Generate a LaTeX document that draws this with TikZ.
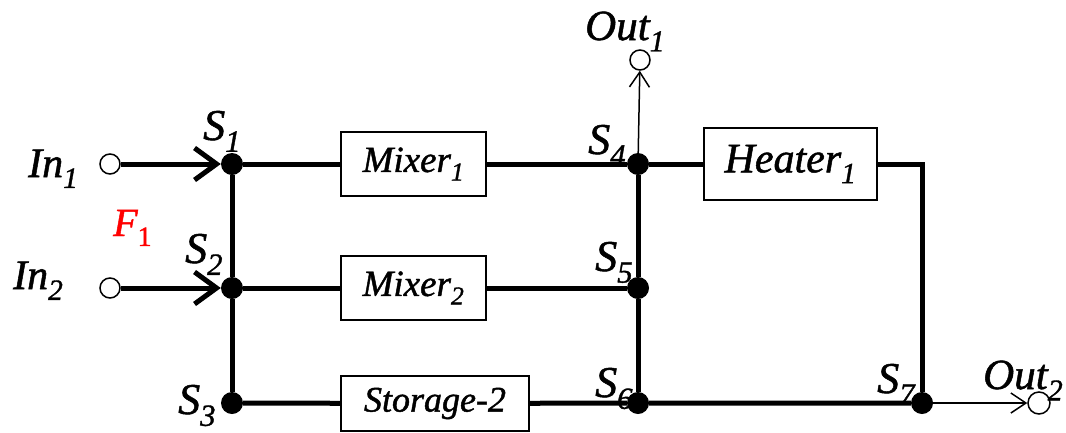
\documentclass[tikz,border=0pt]{standalone}
\usepackage{fontspec}
\setmainfont{Liberation Serif}[FakeBold=1.2]
\usetikzlibrary{arrows.meta}
\begin{document}
\begin{tikzpicture}[x=1pt,y=-1pt,
  dot/.style={circle,fill=black,minimum size=22pt,inner sep=0pt},
  port/.style={circle,draw,line width=1.5pt,fill=white,minimum size=20pt,inner sep=0pt},
  unit/.style={draw,line width=2pt,inner sep=0pt,font=\fontsize{37}{40}\selectfont\itshape},
  wire/.style={line width=5pt,line join=miter},
  feed/.style={line width=5pt,-{Straight Barb[length=22pt,width=32pt]}},
  tap/.style={line width=1.5pt,-{Straight Barb[length=15pt,width=20pt]}},
  slab/.style={anchor=base west,inner sep=0pt,font=\fontsize{44}{48}\selectfont\itshape},
  plab/.style={anchor=base west,inner sep=0pt,font=\fontsize{42}{46}\selectfont\itshape},
]
\useasboundingbox (0,0) rectangle (1066,432);

% units
\node[unit,minimum width=145pt,minimum height=64pt] (Mixer1) at (413.5,164) {Mixer\textsubscript{1}};
\node[unit,minimum width=145pt,minimum height=64pt] (Mixer2) at (413.5,288) {Mixer\textsubscript{2}};
\node[unit,minimum width=188pt,minimum height=55pt,font=\fontsize{36}{40}\selectfont\itshape] (Storage) at (435,403.5) {Storage-2};
\node[unit,minimum width=173pt,minimum height=72pt,font=\fontsize{42}{46}\selectfont\itshape] (Heater) at (790.5,164) {Heater\textsubscript{1}};

% splitters
\node[dot] (S1) at (232,164) {};
\node[dot] (S2) at (232,288) {};
\node[dot] (S3) at (232,403) {};
\node[dot] (S4) at (638,164) {};
\node[dot] (S5) at (638,288) {};
\node[dot] (S6) at (638,403) {};
\node[dot] (S7) at (922,403) {};
\coordinate (corner) at (922,164);

% ports
\node[port] (In1) at (110,164) {};
\node[port] (In2) at (110,288) {};
\node[port] (Out1) at (640,60) {};
\node[port,minimum size=22pt] (Out2) at (1039,403) {};

% wires
\draw[wire] (S1) -- (Mixer1) -- (S4);
\draw[wire] (S2) -- (Mixer2) -- (S5);
\draw[wire] (S3) -- (Storage) -- (S6) -- (S7);
\draw[wire] (S1) -- (S2) -- (S3);
\draw[wire] (S4) -- (S5) -- (S6);
\draw[wire] (S4) -- (Heater) -- (corner) -- (S7);
\draw[feed] (In1) -- (S1);
\draw[feed] (In2) -- (S2);
\draw[tap] (S4) -- (Out1);
\draw[tap] (S7) -- (Out2);

% labels
\node[slab] (lS1) at (203,140) {S\textsubscript{1}};
\node[slab] (lS2) at (185,263) {S\textsubscript{2}};
\node[slab] (lS3) at (178,414) {S\textsubscript{3}};
\node[slab] (lS4) at (588,154) {S\textsubscript{4}};
\node[slab] (lS5) at (595,271) {S\textsubscript{5}};
\node[slab] (lS6) at (595,397) {S\textsubscript{6}};
\node[slab] (lS7) at (877,393) {S\textsubscript{7}};
\node[plab] (lIn1) at (28,177) {In\textsubscript{1}};
\node[plab] (lIn2) at (13,289) {In\textsubscript{2}};
\node[plab,font=\fontsize{43}{46}\selectfont\itshape] (lOut1) at (585,40) {Out\textsubscript{1}};
\node[plab,font=\fontsize{43}{46}\selectfont\itshape] (lOut2) at (983,389) {Out\textsubscript{2}};
\node[plab,font=\fontsize{40}{44}\selectfont\itshape,text=red] (lF1) at (113,236) {F\textsubscript{\upshape 1}};
\end{tikzpicture}
\end{document}
